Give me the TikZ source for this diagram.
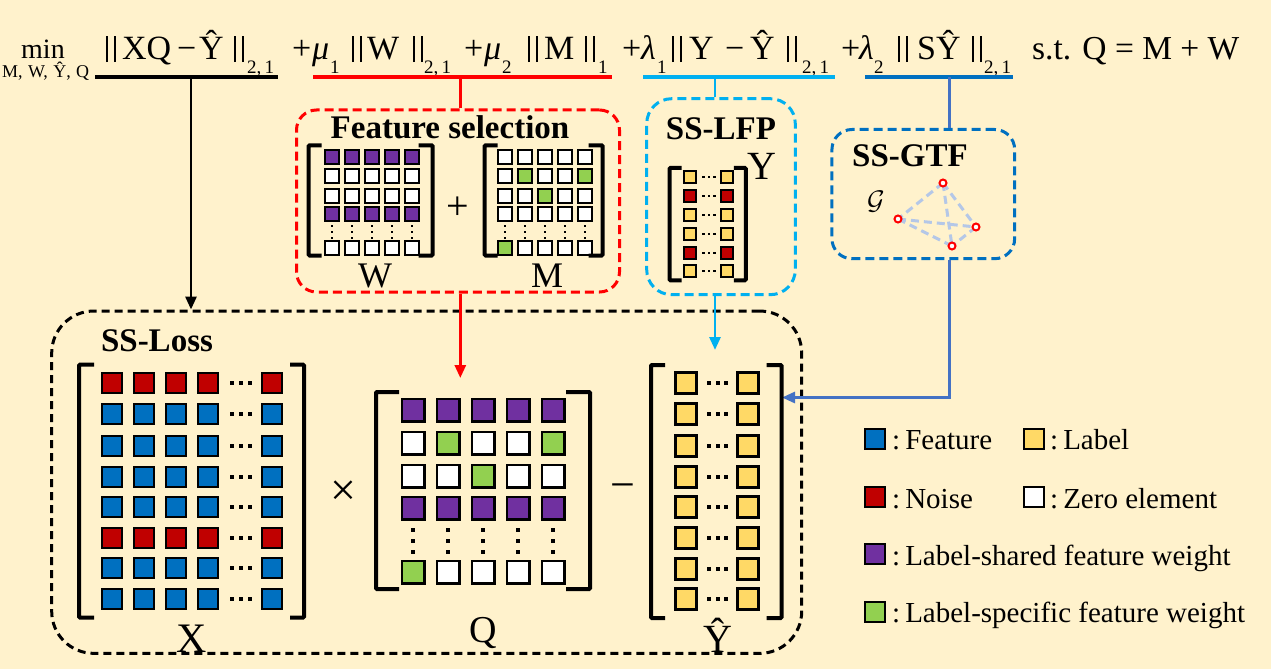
\documentclass[tikz,border=0pt]{standalone}
\usepackage{graphicx}
\usepackage{fontspec}
\setmainfont{Liberation Serif}
\usetikzlibrary{arrows.meta}
\definecolor{bg}{HTML}{FFF2CC}
\definecolor{feat}{HTML}{0070C0}
\definecolor{noise}{HTML}{C00000}
\definecolor{lab}{HTML}{FFD966}
\definecolor{pur}{HTML}{7030A0}
\definecolor{grn}{HTML}{92D050}
\definecolor{wht}{HTML}{FFFFFF}
\definecolor{lblue}{HTML}{00B0F0}
\definecolor{dblue}{HTML}{0070C0}
\definecolor{mblue}{HTML}{4472C4}
\definecolor{edgec}{HTML}{B4C7E7}
\definecolor{fred}{HTML}{FF0000}
\newcommand\fs[1]{\fontsize{#1bp}{#1bp}\selectfont}
\newcommand\nb{\rule[-0.06em]{0.065em}{0.76em}\hspace{0.15em}\rule[-0.06em]{0.065em}{0.76em}}
\tikzset{
  cell/.style={draw=black, line width=2.2bp, minimum size=#1, inner sep=0pt, outer sep=0pt},
  brk/.style={line width=4bp, rounded corners=1bp},
  ftxt/.style={anchor=base west, inner sep=0pt, font=\fs{34}},
  fsub/.style={anchor=base west, inner sep=0pt, font=\fs{19}},
  ttl/.style={anchor=base, inner sep=0pt, font=\fs{33}\bfseries},
  lbl/.style={anchor=base, inner sep=0pt},
  leg/.style={anchor=base west, inner sep=0pt, font=\fs{29}},
  dbox/.style={draw, line width=3bp, dash pattern=on 9bp off 5bp, inner sep=0pt},
  uline/.style={line width=4.5bp},
  conn/.style={line width=2.8bp},
  tip/.style={-{Triangle[length=13bp,width=11bp]}},
  gnode/.style={circle, draw=fred, fill=white, line width=2bp, minimum size=7bp, inner sep=0pt},
  gedge/.style={draw=edgec, line width=3bp, dash pattern=on 8bp off 5bp}
}
\begin{document}
\begin{tikzpicture}[x=1bp,y=-1bp]
\fill[bg] (0,0) rectangle (1271,669);
\useasboundingbox (0,0) rectangle (1271,669);

% ---------- formula ----------
\node[ftxt, font=\fs{28}] (fmin) at (21,59) {min};
\node[ftxt, font=\fs{18}] (fsb) at (2,78) {M,\hspace{0.3em}W,\hspace{0.3em}Ŷ,\hspace{0.3em}Q};
\foreach \n/\xp/\tx in {fa/106/\nb, fb/122/XQ, fc/177/−, fd/199/Ŷ, fe/234/\nb,
    ga/292/+, gb/312/\textit{μ}, gd/352/\nb, ge/367/W, gf/413/\nb,
    ha/464/+, hb/484/\textit{μ}, hd/528/\nb, he/544/M, hf/585/\nb,
    ia/622/+, ib/641/\textit{λ}, id/672/\nb, ie/689/Y, if/725/−, ig/750/Ŷ, ih/787/\nb,
    ja/841/+, jb/859/\textit{λ}, jd/898/\nb, je/917/SŶ, jf/972/\nb}{
  \node[ftxt] (\n) at (\xp,60) {\tx};
}
\foreach \n/\xp/\tx in {fs1/247/{2,\,1}, gs1/330/1, gs2/424/{2,\,1}, hs1/502/2, hs2/598/1,
    is1/657/1, is2/802/{2,\,1}, js1/874/2, js2/984/{2,\,1}}{
  \node[fsub] (\n) at (\xp,74) {\tx};
}
\node[ftxt, font=\fs{33.5}] (f6) at (1032,60) {s.t. Q = M + W};

% underlines
\draw[uline, black] (95,77) -- (278,77);
\draw[uline, fred] (313,77) -- (612,77);
\draw[uline, lblue] (643,77) -- (835,77);
\draw[uline, dblue] (865,77) -- (1013,77);
\coordinate (u1) at (191,77);
\coordinate (u2) at (460.3,77);
\coordinate (u3) at (715,77);
\coordinate (u4) at (949.6,77);

% ---------- boxes ----------
\node[dbox, draw=fred, rounded corners=20bp, minimum width=323bp, minimum height=182bp] (fsbox) at (458,201) {};
\node[dbox, draw=lblue, rounded corners=25bp, minimum width=148.6bp, minimum height=196bp] (lfpbox) at (721,196.7) {};
\node[dbox, draw=dblue, rounded corners=20bp, minimum width=182.7bp, minimum height=129.2bp] (gtfbox) at (923.3,194.1) {};
\node[dbox, draw=black, dash pattern=on 8bp off 5bp, rounded corners=42bp, minimum width=750bp, minimum height=342.3bp] (lossbox) at (426.7,482.2) {};

\node[ttl] (tfs) at (450,139) {Feature selection};
\node[ttl] (tlfp) at (721,140) {SS-LFP};
\node[ttl] (tgtf) at (910,167) {SS-GTF};
\node[ttl] (tloss) at (157,351) {SS-Loss};

% ---------- connectors ----------
\coordinate (qtop) at (460.3,378);
\coordinate (ytop) at (715,350);
\coordinate (yhr) at (782,397.5);
\draw[conn, black, tip] (u1) -- (u1 |- lossbox.north);
\draw[conn, fred] (u2) -- (u2 |- fsbox.north);
\draw[conn, fred, tip] (u2 |- fsbox.south) -- (qtop);
\draw[conn, lblue] (u3) -- (u3 |- lfpbox.north);
\draw[conn, lblue, tip] (u3 |- lfpbox.south) -- (ytop);
\draw[conn, mblue] (u4) -- (u4 |- gtfbox.north);
\draw[conn, mblue, tip] (u4 |- gtfbox.south) -- (u4 |- yhr) -- (yhr);

% ---------- W matrix ----------
\foreach \r/\yy/\cc in {1/157/pur,2/176/wht,3/196/wht,4/214/pur,5/248/wht}{
  \foreach \c in {1,...,5}{
    \pgfmathsetmacro\xx{332+20*(\c-1)}
    \node[cell=14.5bp, line width=1.6bp, fill=\cc] (w-\r-\c) at (\xx,\yy) {};
  }
}
\foreach \c in {1,...,5}{
  \pgfmathsetmacro\xx{332+20*(\c-1)}
  \foreach \yy in {226,232,238} \fill (\xx-1.3,\yy-1.3) rectangle ++(2.6,2.6);
}
\draw[brk] (321.7,145.3) -- (308.7,145.3) -- (308.7,255.5) -- (321.7,255.5);
\draw[brk] (418.5,145.3) -- (432.5,145.3) -- (432.5,255.5) -- (418.5,255.5);
\node[lbl, font=\fs{36}] (lw) at (375,287) {W};
\node[font=\fs{40}, inner sep=0pt] (plus) at (458,208) {+};

% ---------- M matrix ----------
\foreach \r/\yy/\cols in {1/157/{wht,wht,wht,wht,wht},2/176/{wht,grn,wht,wht,grn},3/196/{wht,wht,grn,wht,wht},4/214/{wht,wht,wht,wht,wht},5/248/{grn,wht,wht,wht,wht}}{
  \foreach \cc [count=\c] in \cols{
    \pgfmathsetmacro\xx{505+20*(\c-1)}
    \node[cell=14.5bp, line width=1.6bp, fill=\cc] (m-\r-\c) at (\xx,\yy) {};
  }
}
\foreach \c in {1,...,5}{
  \pgfmathsetmacro\xx{505+20*(\c-1)}
  \foreach \yy in {226,232,238} \fill (\xx-1.3,\yy-1.3) rectangle ++(2.6,2.6);
}
\draw[brk] (497.7,145.3) -- (484.7,145.3) -- (484.7,255.5) -- (497.7,255.5);
\draw[brk] (588.5,145.3) -- (602.5,145.3) -- (602.5,255.5) -- (588.5,255.5);
\node[lbl, font=\fs{36}] (lm) at (547,287) {M};

% ---------- Y matrix ----------
\foreach \r/\yy/\cc in {1/177/lab,2/196/noise,3/215/lab,4/234/lab,5/253/noise,6/271/lab}{
  \node[cell=12.5bp, line width=1.6bp, fill=\cc] (y-\r-1) at (690,\yy) {};
  \node[cell=12.5bp, line width=1.6bp, fill=\cc] (y-\r-2) at (727,\yy) {};
  \foreach \xx in {703.5,709,714.5} \fill (\xx-1.3,\yy-1.3) rectangle ++(2.6,2.6);
}
\draw[brk] (681.5,168) -- (669.5,168) -- (669.5,280.3) -- (681.5,280.3);
\draw[brk] (733.8,168) -- (745.8,168) -- (745.8,280.3) -- (733.8,280.3);
\node[lbl, font=\fs{40}] (ly) at (762,180) {Y};

% ---------- SS-GTF graph ----------
\node[inner sep=0pt, scale=2.7, transform shape] (calg) at (876,202) {\fontsize{10pt}{10pt}\selectfont$\mathcal{G}$};
\coordinate (gA) at (943,183);
\coordinate (gB) at (898,219);
\coordinate (gC) at (976,227);
\coordinate (gD) at (952,246);
\draw[gedge] (gA) -- (gB) (gA) -- (gC) (gA) -- (gD) (gB) -- (gC) (gB) -- (gD) (gC) -- (gD);
\node[gnode] (nA) at (gA) {};
\node[gnode] (nB) at (gB) {};
\node[gnode] (nC) at (gC) {};
\node[gnode] (nD) at (gD) {};

% ---------- X matrix ----------
\foreach \r/\yy/\cc in {1/383/noise,2/414/feat,3/446/feat,4/477/feat,5/507/feat,6/538/noise,7/568/feat,8/599/feat}{
  \foreach \c/\xx in {1/112,2/144,3/176,4/208,5/272}{
    \node[cell=20bp, fill=\cc] (x-\r-\c) at (\xx,\yy) {};
  }
  \foreach \xx in {232,241,250} \fill (\xx-2,\yy-2) rectangle ++(4,4);
}
\draw[brk] (94,364.7) -- (79,364.7) -- (79,617.5) -- (94,617.5);
\draw[brk] (290,364.7) -- (304,364.7) -- (304,617.5) -- (290,617.5);
\node[lbl, font=\fs{42}] (lx) at (192,652) {X};
\node[font=\fs{46}, inner sep=0pt] (times) at (343,493) {×};

% ---------- Q matrix ----------
\foreach \r/\yy/\cols in {1/410/{pur,pur,pur,pur,pur},2/443/{wht,grn,wht,wht,grn},3/476/{wht,wht,grn,wht,wht},4/508/{pur,pur,pur,pur,pur},5/572/{grn,wht,wht,wht,wht}}{
  \foreach \cc [count=\c] in \cols{
    \pgfmathsetmacro\xx{413+35*(\c-1)}
    \node[cell=22.8bp, fill=\cc] (q-\r-\c) at (\xx,\yy) {};
  }
}
\foreach \c in {1,...,5}{
  \pgfmathsetmacro\xx{413+35*(\c-1)}
  \foreach \yy in {530,541,552} \fill (\xx-2,\yy-2) rectangle ++(4,4);
}
\draw[brk] (399,392) -- (376,392) -- (376,589) -- (399,589);
\draw[brk] (566,392) -- (590,392) -- (590,589) -- (566,589);
\node[lbl, font=\fs{38}] (lq) at (483,642) {Q};
\node[font=\fs{44}, inner sep=0pt] (minus) at (623,492) {−};

% ---------- Y-hat matrix ----------
\foreach \r/\yy in {1/383,2/414,3/446,4/477,5/507,6/538,7/569,8/599}{
  \node[cell=21bp, fill=lab] (yh-\r-1) at (686,\yy) {};
  \node[cell=21bp, fill=lab] (yh-\r-2) at (748,\yy) {};
  \foreach \xx in {709,717.5,726} \fill (\xx-2,\yy-2) rectangle ++(4,4);
}
\draw[brk] (665,365) -- (651,365) -- (651,618) -- (665,618);
\draw[brk] (766.5,365) -- (781.5,365) -- (781.5,618) -- (766.5,618);
\node[lbl, font=\fs{40}] (lyh) at (718,652) {Ŷ};

% ---------- legend ----------
\node[cell=20bp, fill=feat] (k1) at (875,439) {};
\node[leg] (t1) at (892,449) {:\hspace{5bp}Feature};
\node[cell=20bp, fill=lab] (k2) at (1034,439) {};
\node[leg] (t2) at (1050,449) {:\hspace{5bp}Label};
\node[cell=20bp, fill=noise] (k3) at (875,497) {};
\node[leg] (t3) at (892,508) {:\hspace{5bp}Noise};
\node[cell=20bp, fill=wht] (k4) at (1034,497) {};
\node[leg] (t4) at (1050,508) {:\hspace{5bp}Zero element};
\node[cell=20bp, fill=pur] (k5) at (875,554) {};
\node[leg] (t5) at (892,565) {:\hspace{5bp}Label-shared feature weight};
\node[cell=20bp, fill=grn] (k6) at (875,612) {};
\node[leg] (t6) at (892,622) {:\hspace{5bp}Label-specific feature weight};
\end{tikzpicture}
\end{document}
